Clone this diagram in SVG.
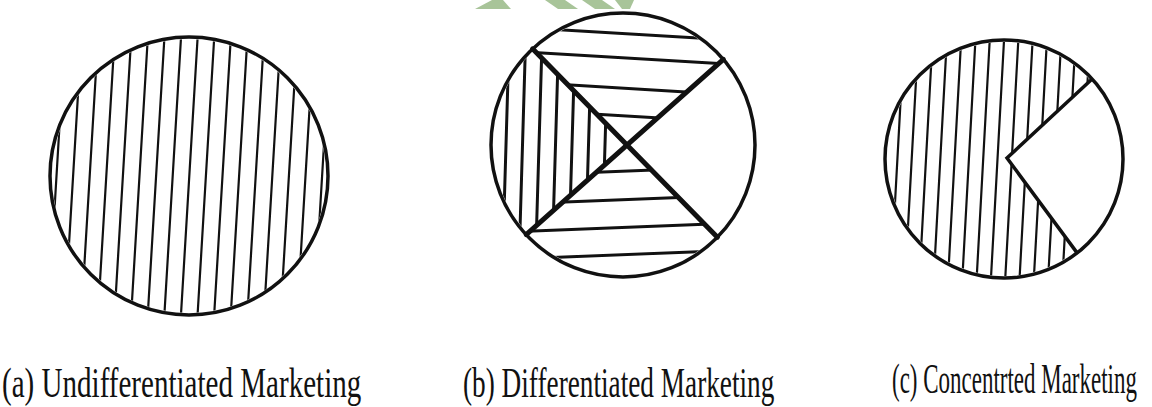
<svg xmlns="http://www.w3.org/2000/svg" width="1152" height="407" viewBox="0 0 1152 407">
<style>
.outline{fill:none;stroke:#111;stroke-width:3.5}
.hatch{stroke:#111;stroke-width:2.2;fill:none}
.hatchB{stroke:#111;stroke-width:3;fill:none}
.xline{stroke:#111;stroke-width:5;fill:none;stroke-linecap:round}
.label{font-family:"Liberation Serif","Times New Roman",serif;font-size:42px;fill:#111;font-variant-ligatures:none}
.wm{fill:#a8c499}
</style>
<defs>
<clipPath id="clipA"><circle cx="189" cy="176" r="137"/></clipPath>
<clipPath id="clipB"><circle cx="623" cy="145" r="130"/></clipPath>
<clipPath id="clipBtop"><polygon points="627,145 452,-33.5 813.75,-21"/></clipPath>
<clipPath id="clipBbot"><polygon points="627,145 802,323.5 440.25,311"/></clipPath>
<clipPath id="clipBleft"><polygon points="627,145 452,-33.5 440.25,311"/></clipPath>
<clipPath id="clipC"><circle cx="1004" cy="159" r="117"/></clipPath>
<clipPath id="clipCnot"><polygon points="1007,158 1143,342 1143,500 800,500 800,-100 1175,-100 1175,2"/></clipPath>
</defs>
<rect width="1152" height="407" fill="#fff"/>
<g id="watermark">
<polygon class="wm" points="475,9 511,9 503,0 492,0"/>
<polygon class="wm" points="545,0 565,0 578,9 558,9"/>
<polygon class="wm" points="582,0 602,0 615,9 595,9"/>
<polygon class="wm" points="615,0 634,0 630,9 622,9"/>
</g>
<g id="node-a">
<g clip-path="url(#clipA)">
<path class="hatch" d="M65.26,30L47.74,322M81.86,30L64.34,322M98.46,30L80.94,322M115.06,30L97.54,322M131.66,30L114.14,322M148.26,30L130.74,322M164.86,30L147.34,322M181.46,30L163.94,322M198.06,30L180.54,322M214.66,30L197.14,322M231.26,30L213.74,322M247.86,30L230.34,322M264.46,30L246.94,322M281.06,30L263.54,322M297.66,30L280.14,322M314.26,30L296.74,322M330.86,30L313.34,322"/>
</g>
<circle class="outline" cx="189" cy="176" r="139"/>
<text class="label" transform="translate(2,397) scale(0.692,1)">(a) Undifferentiated Marketing</text>
</g>
<g id="node-b">
<g clip-path="url(#clipB)">
<g clip-path="url(#clipBleft)">
<path class="hatchB" d="M510,10L502,280M526.5,10L518.5,280M543,10L535,280M559.5,10L551.5,280M576,10L568,280M592.5,10L584.5,280M609,10L601,280"/>
</g>
<g clip-path="url(#clipBtop)">
<path class="hatchB" d="M480,25L780,43M480,49.2L780,67.2M480,79.6L780,97.6M480,107.2L780,125.2"/>
</g>
<g clip-path="url(#clipBbot)">
<path class="hatchB" d="M480,176.9L780,164.9M480,205.4L780,193.4M480,233.2L780,221.2M480,260.4L780,248.4"/>
</g>
</g>
<path class="xline" d="M532.6,48.8L717.4,237.2M723.4,59.3L526.2,234.6"/>
<circle class="outline" cx="623" cy="145" r="132"/>
<text class="label" style="font-size:43px" transform="translate(463,397) scale(0.634,1)">(b) Differentiated Marketing</text>
</g>
<g id="node-c">
<g clip-path="url(#clipC)">
<g clip-path="url(#clipCnot)">
<path class="hatch" d="M904.2,35L890.6,283M918.5,35L904.9,283M932.8,35L919.2,283M947.1,35L933.5,283M961.4,35L947.8,283M975.7,35L962.1,283M990,35L976.4,283M1004.3,35L990.7,283M1018.6,35L1005,283M1032.9,35L1019.3,283M1047.2,35L1033.6,283M1061.5,35L1047.9,283M1075.8,35L1062.2,283M1090.1,35L1076.5,283M1104.4,35L1090.8,283M1118.7,35L1105.1,283"/>
</g>
</g>
<path class="outline" d="M1092.1,79L1007,158L1077.1,252.9"/>
<circle class="outline" cx="1004" cy="159" r="119"/>
<text class="label" transform="translate(892,393) scale(0.547,1)">(c) Concentrted Marketing</text>
</g>
</svg>
